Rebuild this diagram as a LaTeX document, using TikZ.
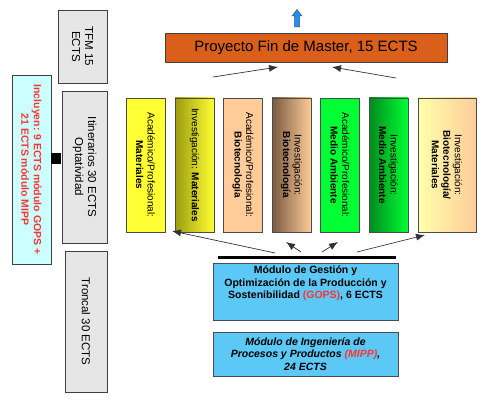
\documentclass[tikz,border=0pt]{standalone}
\usepackage{fontspec}
\setmainfont{Liberation Sans}
\usepackage{tikz}
\usetikzlibrary{arrows.meta}
\definecolor{boxgray}{HTML}{E6E6E6}
\definecolor{inclcyan}{HTML}{CCFFFF}
\definecolor{inclred}{HTML}{FF3333}
\definecolor{proyorange}{HTML}{D95F1B}
\definecolor{colyellow}{HTML}{FFFF33}
\definecolor{cololive}{HTML}{9C9C10}
\definecolor{colpeach}{HTML}{FFCC99}
\definecolor{colbrown}{HTML}{7A5A40}
\definecolor{colgreen}{HTML}{00FF33}
\definecolor{coldkgreen}{HTML}{008A1E}
\definecolor{colcream}{HTML}{FFFFAA}
\definecolor{modblue}{HTML}{5CC8F5}
\definecolor{arrowblue}{HTML}{1E90FF}

\begin{document}
\begin{tikzpicture}[x=1pt,y=-1pt,
    sidebox/.style={draw=black!75, line width=0.8pt, fill=boxgray, rotate=-90, align=center, inner sep=0pt, font=\fontsize{11.5}{13}\selectfont},
    colbox/.style={draw=black!70, line width=0.8pt, rotate=-90, align=center, inner sep=0pt, minimum width=134pt, minimum height=39pt, font=\fontsize{10}{11.5}\selectfont},
    modbox/.style={draw=black!70, line width=0.8pt, fill=modblue, minimum width=185pt, align=center, inner sep=0pt, font=\fontsize{10.5}{12.5}\selectfont\bfseries},
    link/.style={-{Latex[length=9pt,width=7pt]}, black!80, line width=0.7pt}]
    \useasboundingbox (0,0) rectangle (490,409);

    % left column
    \node[sidebox, minimum width=73pt, minimum height=49pt] (tfm) at (82.5,46.5) {TFM 15\\ECTS};
    \node[sidebox, minimum width=152pt, minimum height=45pt] (itin) at (84.5,167) {Itinerarios 30 ECTS\\Optatividad};
    \node[sidebox, minimum width=141pt, minimum height=42pt] (tronc) at (86,321.5) {Troncal 30 ECTS};
    \node[draw=black!75, line width=0.8pt, fill=inclcyan, rotate=-90, minimum width=189pt, minimum height=39pt, inner sep=0pt, align=center,
          font=\fontsize{10.5}{12.5}\selectfont\bfseries, text=inclred] (incl) at (31.5,169.5) {Incluyen: 9 ECTS módulo GOPS +\\21 ECTS módulo MIPP};
    \node[fill=black, inner sep=0pt, minimum width=10pt, minimum height=11pt] (joint) at (56,158.5) {};

    % proyecto
    \draw[draw=black!70, fill=arrowblue, line width=0.5pt] (297,9.5) -- (302,16) -- (299.5,16) -- (299.5,27) -- (294.5,27) -- (294.5,16) -- (292,16) -- cycle;
    \node[draw=black!75, line width=0.8pt, fill=proyorange, minimum width=282pt, minimum height=29pt, inner sep=0pt, font=\fontsize{15}{18}\selectfont] (proy) at (306,47.5) {Proyecto Fin de Master, 15 ECTS};
    \coordinate (pl) at (213,77); \coordinate (pr) at (396,78);
    \coordinate (ph1) at (278,67); \coordinate (ph2) at (332,67);
    \draw[link] (pl) -- (ph1);
    \draw[link] (pr) -- (ph2);

    % itinerarios
    \node[colbox, fill=colyellow] (c1) at (145.5,165) {Académico/Profesional:\\\textbf{Materiales}};
    \node[colbox, left color=cololive, right color=colyellow] (c2) at (194.5,165) {Investigación: \textbf{Materiales}};
    \node[colbox, fill=colpeach] (c3) at (243,165) {Académico/Profesional:\\\textbf{Biotecnología}};
    \node[colbox, left color=colbrown, right color=colpeach] (c4) at (291.5,165) {Investigación:\\\textbf{Biotecnología}};
    \node[colbox, fill=colgreen] (c5) at (340,165) {Académico/Profesional:\\\textbf{Medio Ambiente}};
    \node[colbox, left color=coldkgreen, right color=colgreen] (c6) at (388.5,165) {Investigación:\\\textbf{Medio Ambiente}};
    \node[colbox, minimum height=58pt, left color=colcream, right color=colpeach] (c7) at (447,165) {Investigación:\\\textbf{Biotecnología/}\\\textbf{Materiales}};

    % modulos
    \coordinate (barl) at (218,257); \coordinate (barr) at (396,257);
    \draw[line width=3pt] (barl) -- (barr);
    \coordinate (a1) at (275,253); \coordinate (h1) at (172,231);
    \coordinate (a2) at (301,252); \coordinate (h2) at (286,242);
    \coordinate (a3) at (322,252); \coordinate (h3) at (338,242);
    \coordinate (a4) at (357,252); \coordinate (h4) at (425,235);
    \foreach \i in {1,...,4} {\draw[link] (a\i) -- (h\i);}

    \node[modbox, minimum height=57pt] (gops) at (305.5,291.5) {};
    \node[anchor=north, align=center, inner sep=0pt, font=\fontsize{10.5}{12.5}\selectfont\bfseries] (gopstxt) at ([yshift=-3pt]gops.north)
        {Módulo de Gestión y\\Optimización de la Producción y\\Sostenibilidad \textcolor{inclred}{(GOPS)}, 6 ECTS};
    \node[modbox, minimum height=44pt, font=\fontsize{10.5}{12.5}\selectfont\bfseries\itshape] (mipp) at (305.5,354)
        {Módulo de Ingeniería de\\Procesos y Productos \textcolor{inclred}{(MIPP)},\\24 ECTS};
\end{tikzpicture}
\end{document}
